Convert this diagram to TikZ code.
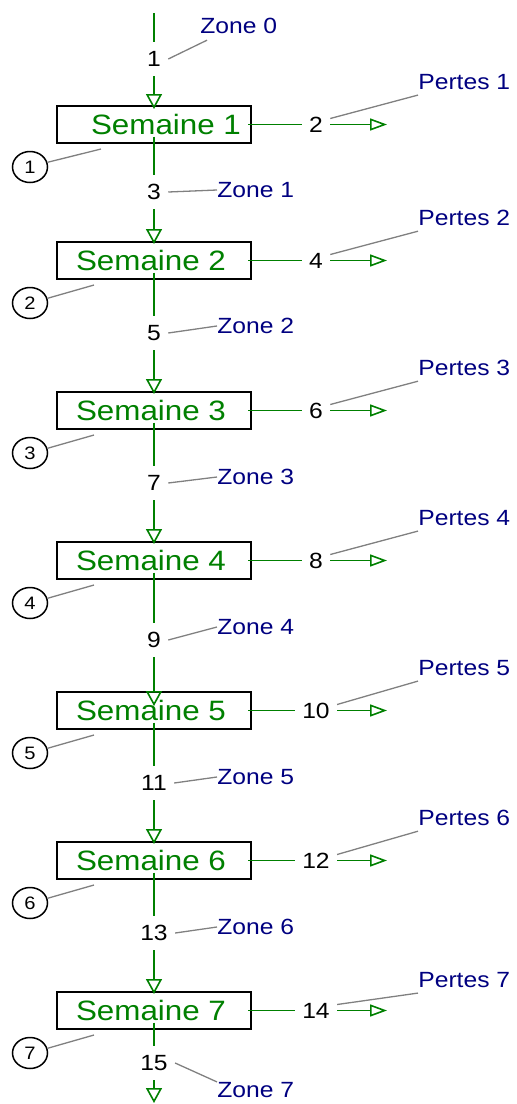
\documentclass[tikz,border=0pt]{standalone}
\usepackage{fontspec}
\setmainfont{Liberation Sans}[FakeStretch=1.12]
\usetikzlibrary{arrows.meta}
\usetikzlibrary{shapes.geometric}

\definecolor{wgreen}{RGB}{0,128,0}
\definecolor{wblue}{RGB}{0,0,128}
\definecolor{wgray}{RGB}{128,128,128}

\begin{document}
\begin{tikzpicture}[x=0.5pt, y=-0.5pt,
	wbox/.style={draw, line width=1pt, minimum width=97pt, minimum height=18.5pt, inner sep=0pt},
	wtxt/.style={text=wgreen, font=\fontsize{14}{16}\selectfont, inner sep=0pt},
	num/.style={font=\fontsize{11}{13}\selectfont, inner xsep=3.5pt, inner ysep=0pt, minimum height=17pt},
	zone/.style={text=wblue, font=\fontsize{11}{13}\selectfont, inner sep=0pt, anchor=west},
	circ/.style={draw, ellipse, line width=0.75pt, minimum width=17.5pt, minimum height=15.5pt, inner sep=0pt, font=\fontsize{9}{10}\selectfont},
	flow/.style={wgreen, line width=0.8pt},
	vtip/.style={-{Triangle[open, length=7.5pt, width=8pt]}},
	htip/.style={-{Triangle[open, length=8.5pt, width=6pt]}},
	gline/.style={wgray, line width=0.65pt}]

	\useasboundingbox (0,0) rectangle (516,1104);

	% weeks
	\node[wbox] (b1) at (154,124.5) {};
	\node[wbox] (b2) at (154,260.5) {};
	\node[wbox] (b3) at (154,410.5) {};
	\node[wbox] (b4) at (154,560.5) {};
	\node[wbox] (b5) at (154,710.5) {};
	\node[wbox] (b6) at (154,860.5) {};
	\node[wbox] (b7) at (154,1010.5) {};

	\node[wtxt] (s1) at ([xshift=6pt]b1.center) {Semaine 1};
	\node[wtxt] (s2) at ([xshift=-1.5pt]b2.center) {Semaine 2};
	\node[wtxt] (s3) at ([xshift=-1.5pt]b3.center) {Semaine 3};
	\node[wtxt] (s4) at ([xshift=-1.5pt]b4.center) {Semaine 4};
	\node[wtxt] (s5) at ([xshift=-1.5pt]b5.center) {Semaine 5};
	\node[wtxt] (s6) at ([xshift=-1.5pt]b6.center) {Semaine 6};
	\node[wtxt] (s7) at ([xshift=-1.5pt]b7.center) {Semaine 7};

	% flow numbers
	\node[num] (n1) at (154,59) {1};
	\node[num] (n3) at (154,192) {3};
	\node[num] (n5) at (154,333) {5};
	\node[num] (n7) at (154,483) {7};
	\node[num] (n9) at (154,640) {9};
	\node[num] (n11) at (154,783) {11};
	\node[num] (n13) at (154,933) {13};
	\node[num] (n15) at (154,1063) {15};

	\node[num] (n2) at (316,124.5) {2};
	\node[num] (n4) at (316,260.5) {4};
	\node[num] (n6) at (316,410.5) {6};
	\node[num] (n8) at (316,560.5) {8};
	\node[num] (n10) at (316,710.5) {10};
	\node[num] (n12) at (316,860.5) {12};
	\node[num] (n14) at (316,1010.5) {14};

	\coordinate (top) at (154,13);
	\coordinate (bot) at (154,1103);
	\coordinate (o1) at (387,124.5);
	\coordinate (o2) at (387,260.5);
	\coordinate (o3) at (387,410.5);
	\coordinate (o4) at (387,560.5);
	\coordinate (o5) at (387,710.5);
	\coordinate (o6) at (387,860.5);
	\coordinate (o7) at (387,1010.5);

	% zones and losses
	\node[zone] (z0) at (200,26) {Zone 0};
	\node[zone] (z1) at (217,190) {Zone 1};
	\node[zone] (z2) at (217,326) {Zone 2};
	\node[zone] (z3) at (217,477) {Zone 3};
	\node[zone] (z4) at (217,627) {Zone 4};
	\node[zone] (z5) at (217,777) {Zone 5};
	\node[zone] (z6) at (217,927) {Zone 6};
	\node[zone] (z7) at (217,1090) {Zone 7};

	\node[zone] (p1) at (418,82) {Pertes 1};
	\node[zone] (p2) at (418,218) {Pertes 2};
	\node[zone] (p3) at (418,368) {Pertes 3};
	\node[zone] (p4) at (418,518) {Pertes 4};
	\node[zone] (p5) at (418,668) {Pertes 5};
	\node[zone] (p6) at (418,818) {Pertes 6};
	\node[zone] (p7) at (418,980) {Pertes 7};

	\node[circ] (c1) at (30,167) {1};
	\node[circ] (c2) at (30,303) {2};
	\node[circ] (c3) at (30,453) {3};
	\node[circ] (c4) at (30,603) {4};
	\node[circ] (c5) at (30,753) {5};
	\node[circ] (c6) at (30,903) {6};
	\node[circ] (c7) at (30,1053) {7};

	\begin{scope}[flow]
		\draw (top) -- (n1);
		\draw[vtip] (n1) -- ([yshift=-2pt]b1.north);
		\draw ([yshift=-6pt]b1.center) -- (n3);
		\draw[vtip] (n3) -- ([yshift=-1.5pt]b2.north);
		\draw ([yshift=-6pt]b2.center) -- (n5);
		\draw[vtip] (n5) -- ([yshift=-1.5pt]b3.north);
		\draw ([yshift=-6pt]b3.center) -- (n7);
		\draw[vtip] (n7) -- ([yshift=-1.5pt]b4.north);
		\draw ([yshift=-6pt]b4.center) -- (n9);
		\draw[vtip] (n9) -- ([yshift=-7.5pt]b5.north);
		\draw ([yshift=-6pt]b5.center) -- (n11);
		\draw[vtip] (n11) -- ([yshift=-1.5pt]b6.north);
		\draw ([yshift=-6pt]b6.center) -- (n13);
		\draw[vtip] (n13) -- ([yshift=-1.5pt]b7.north);
		\draw ([yshift=-6pt]b7.center) -- (n15);
		\draw[vtip] (n15) -- (bot);

		\draw ([xshift=-2pt]b1.east) -- (n2);
		\draw[htip] (n2) -- (o1);
		\draw ([xshift=-2pt]b2.east) -- (n4);
		\draw[htip] (n4) -- (o2);
		\draw ([xshift=-2pt]b3.east) -- (n6);
		\draw[htip] (n6) -- (o3);
		\draw ([xshift=-2pt]b4.east) -- (n8);
		\draw[htip] (n8) -- (o4);
		\draw ([xshift=-2pt]b5.east) -- (n10);
		\draw[htip] (n10) -- (o5);
		\draw ([xshift=-2pt]b6.east) -- (n12);
		\draw[htip] (n12) -- (o6);
		\draw ([xshift=-2pt]b7.east) -- (n14);
		\draw[htip] (n14) -- (o7);
	\end{scope}

	% grey leaders
	\draw[gline] (n1.east) -- ([shift={(3.5pt,-3pt)}]z0.south west);
	\draw[gline] (n3.east) -- (z1.west);
	\draw[gline] (n5.east) -- (z2.west);
	\draw[gline] (n7.east) -- (z3.west);
	\draw[gline] (n9.east) -- (z4.west);
	\draw[gline] (n11.east) -- (z5.west);
	\draw[gline] (n13.east) -- (z6.west);
	\draw[gline] (n15.east) -- (z7.north west);

	\draw[gline] ([yshift=3pt]n2.east) -- ([yshift=-2.5pt]p1.south west);
	\draw[gline] ([yshift=3pt]n4.east) -- ([yshift=-2.5pt]p2.south west);
	\draw[gline] ([yshift=3pt]n6.east) -- ([yshift=-2.5pt]p3.south west);
	\draw[gline] ([yshift=3pt]n8.east) -- ([yshift=-2.5pt]p4.south west);
	\draw[gline] ([yshift=3pt]n10.east) -- ([yshift=-2.5pt]p5.south west);
	\draw[gline] ([yshift=3pt]n12.east) -- ([yshift=-2.5pt]p6.south west);
	\draw[gline] ([yshift=3pt]n14.east) -- ([yshift=-2.5pt]p7.south west);

	\draw[gline] (c1.15) -- ([shift={(22.5pt,-2.5pt)}]b1.south west);
	\draw[gline] (c2.15) -- ([shift={(19pt,-2.5pt)}]b2.south west);
	\draw[gline] (c3.15) -- ([shift={(19pt,-2.5pt)}]b3.south west);
	\draw[gline] (c4.15) -- ([shift={(19pt,-2.5pt)}]b4.south west);
	\draw[gline] (c5.15) -- ([shift={(19pt,-2.5pt)}]b5.south west);
	\draw[gline] (c6.15) -- ([shift={(19pt,-2.5pt)}]b6.south west);
	\draw[gline] (c7.15) -- ([shift={(19pt,-2.5pt)}]b7.south west);
\end{tikzpicture}
\end{document}
